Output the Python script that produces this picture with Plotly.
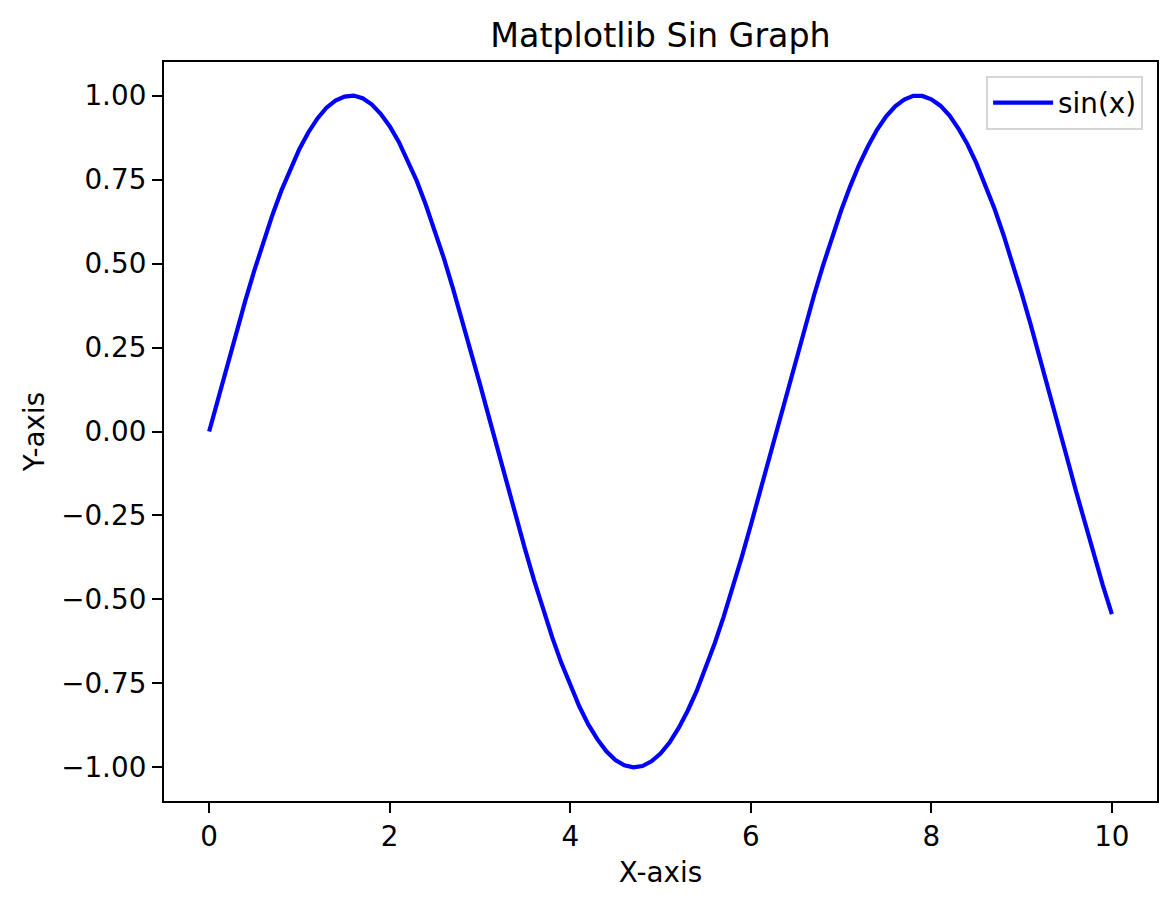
import plotly.graph_objects as go

# values, x step 0.1
x_vals = [0.0, 0.1, 0.2, 0.3, 0.4, 0.5, 0.6, 0.7, 0.8, 0.9,
          1.0, 1.1, 1.2, 1.3, 1.4, 1.5, 1.6, 1.7, 1.8, 1.9,
          2.0, 2.1, 2.2, 2.3, 2.4, 2.5, 2.6, 2.7, 2.8, 2.9,
          3.0, 3.1, 3.2, 3.3, 3.4, 3.5, 3.6, 3.7, 3.8, 3.9,
          4.0, 4.1, 4.2, 4.3, 4.4, 4.5, 4.6, 4.7, 4.8, 4.9,
          5.0, 5.1, 5.2, 5.3, 5.4, 5.5, 5.6, 5.7, 5.8, 5.9,
          6.0, 6.1, 6.2, 6.3, 6.4, 6.5, 6.6, 6.7, 6.8, 6.9,
          7.0, 7.1, 7.2, 7.3, 7.4, 7.5, 7.6, 7.7, 7.8, 7.9,
          8.0, 8.1, 8.2, 8.3, 8.4, 8.5, 8.6, 8.7, 8.8, 8.9,
          9.0, 9.1, 9.2, 9.3, 9.4, 9.5, 9.6, 9.7, 9.8, 9.9,
          10.0]
y_vals = [0.000, 0.100, 0.199, 0.296, 0.389, 0.479, 0.565, 0.644, 0.717, 0.783,
          0.841, 0.891, 0.932, 0.964, 0.985, 0.997, 1.000, 0.992, 0.974, 0.946,
          0.909, 0.863, 0.808, 0.746, 0.675, 0.598, 0.516, 0.427, 0.335, 0.239,
          0.141, 0.042, -0.058, -0.158, -0.256, -0.351, -0.443, -0.530, -0.612, -0.688,
          -0.757, -0.818, -0.872, -0.916, -0.952, -0.978, -0.994, -1.000, -0.996, -0.982,
          -0.959, -0.926, -0.883, -0.832, -0.773, -0.706, -0.631, -0.551, -0.465, -0.374,
          -0.279, -0.182, -0.083, 0.017, 0.117, 0.215, 0.312, 0.405, 0.494, 0.578,
          0.657, 0.729, 0.794, 0.850, 0.899, 0.938, 0.968, 0.988, 0.999, 0.999,
          0.989, 0.970, 0.941, 0.902, 0.855, 0.798, 0.734, 0.663, 0.585, 0.501,
          0.412, 0.319, 0.223, 0.124, 0.025, -0.075, -0.175, -0.272, -0.367, -0.458,
          -0.544]

x_ticks = [0, 2, 4, 6, 8, 10]
y_ticks = [-1.0, -0.75, -0.5, -0.25, 0.0, 0.25, 0.5, 0.75, 1.0]
y_tick_text = ["\u22121.00", "\u22120.75", "\u22120.50", "\u22120.25", "0.00",
               "0.25", "0.50", "0.75", "1.00"]

FONT = "DejaVu Sans"

fig = go.Figure()
fig.add_trace(go.Scatter(
    x=x_vals, y=y_vals,
    mode='lines',
    name='sin(x)',
    line=dict(color='blue', width=4.2),
))

axis_style = dict(
    showline=True, linecolor='black', linewidth=2.2, mirror=True,
    showgrid=False, zeroline=False,
    ticks='outside', ticklen=10, tickwidth=2.2, tickcolor='black',
    tickfont=dict(family=FONT, size=27.8, color='black'),
)

# the page body adds ~8px, so margins are shifted to compensate
fig.update_layout(
    width=1175, height=908,
    paper_bgcolor='white', plot_bgcolor='white',
    margin=dict(l=156, r=26, t=54, b=115),
    font=dict(family=FONT, color='black'),
    title=dict(text='Matplotlib Sin Graph', x=0.5, xref='paper',
               y=1 - 27 / 908, yref='container', yanchor='middle',
               font=dict(family=FONT, size=33.3, color='black')),
    xaxis=dict(range=[-0.5, 10.5], tickvals=x_ticks,
               title=dict(text='X-axis', font=dict(size=27.8), standoff=10),
               **axis_style),
    yaxis=dict(range=[-1.1, 1.1], tickvals=y_ticks, ticktext=y_tick_text,
               title=dict(text='Y-axis', font=dict(size=27.8), standoff=8),
               **axis_style),
    showlegend=True,
    legend=dict(x=0.986, y=0.981, xanchor='right', yanchor='top',
                itemwidth=60,
                bgcolor='rgba(255,255,255,0.8)', bordercolor='#d6d6d6',
                borderwidth=2, font=dict(family=FONT, size=27.8)),
)

fig.write_html("out.html")
